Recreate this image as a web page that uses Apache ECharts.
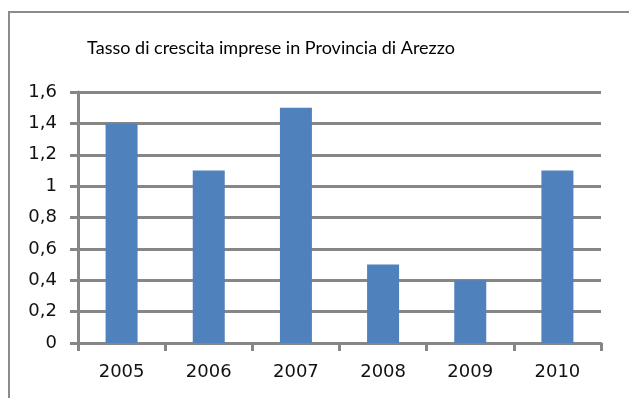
<!DOCTYPE html>
<html><head><meta charset="utf-8">
<script src="https://cdn.jsdelivr.net/npm/echarts@6/dist/echarts.min.js"></script>
<style>html,body{margin:0;padding:0;background:#fff}#c{width:629px;height:398px}</style>
</head><body><div id="c"></div>
<script>
var title = 'Tasso di crescita imprese in Provincia di Arezzo';
var categories = ['2005','2006','2007','2008','2009','2010'];
var values = [1.4, 1.1, 1.5, 0.5, 0.4, 1.1];
var chart = echarts.init(document.getElementById('c'));
var fmt = function(v){ return String(Math.round(v*10)/10).replace('.', ','); };
chart.setOption({
  backgroundColor:'#fff',
  animation:false,
  graphic:[{type:'rect', shape:{x:9,y:12,width:640,height:400}, style:{fill:null, stroke:'#8c8c8c', lineWidth:2}}],
  title:{text:title, left:266, top:34, textAlign:'center', textStyle:{fontFamily:'Lato', fontSize:18, fontWeight:'normal', color:'#000'}},
  grid:{left:78, right:28, top:92, bottom:55},
  xAxis:{type:'category', data:categories,
    axisLine:{lineStyle:{color:'#868686', width:3}},
    axisTick:{show:true, length:8, lineStyle:{color:'#868686', width:3}},
    axisLabel:{color:'#111', fontFamily:'DejaVu Sans', fontSize:18, margin:20}},
  yAxis:{type:'value', min:0, max:1.6, interval:0.2,
    axisLine:{show:true, lineStyle:{color:'#868686', width:3}},
    axisTick:{show:true, length:8, lineStyle:{color:'#868686', width:3}},
    splitLine:{lineStyle:{color:'#868686', width:3}},
    axisLabel:{color:'#111', fontFamily:'DejaVu Sans', fontSize:18, margin:21, formatter:fmt}},
  series:[{type:'bar', data:values, barWidth:32, itemStyle:{color:'#4F81BD'}}]
});
</script></body></html>
